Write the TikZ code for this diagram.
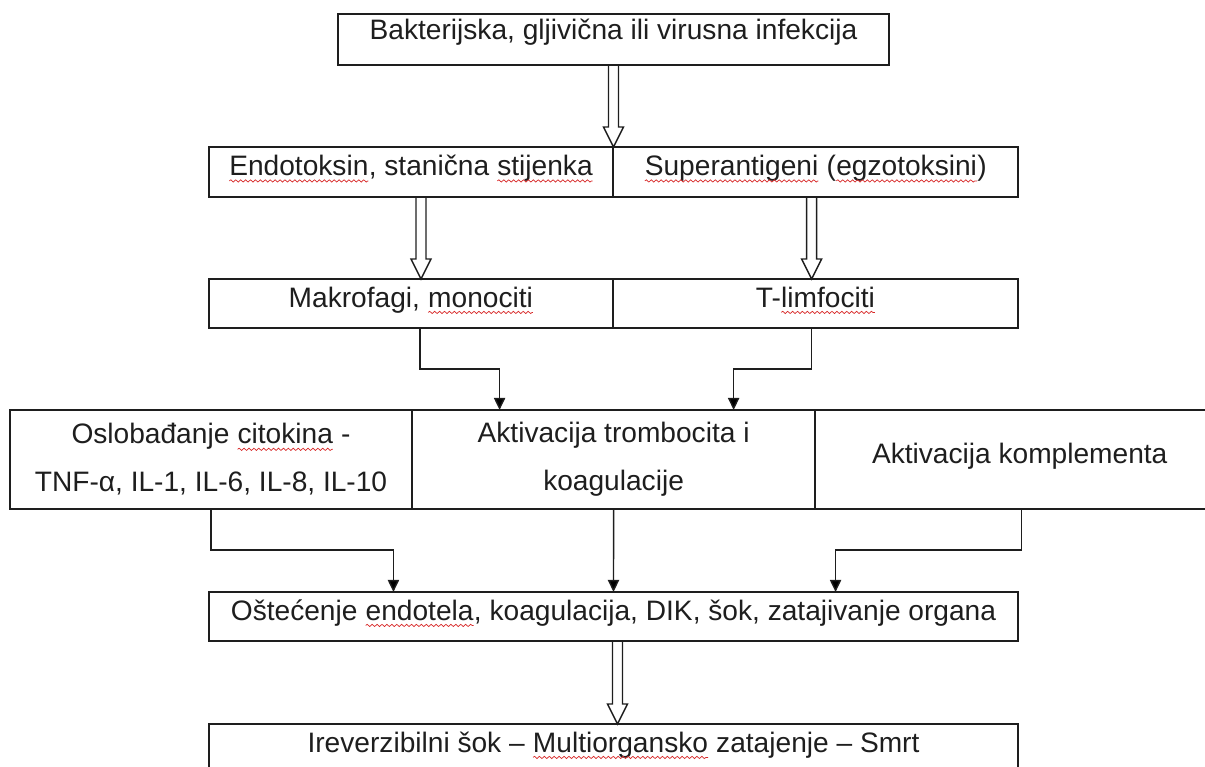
\documentclass[tikz,border=0pt]{standalone}
\usepackage{fontspec}
\setmainfont{Liberation Sans}
\usepackage{tikz}
\usetikzlibrary{arrows.meta, positioning, calc, decorations.pathmorphing}
\definecolor{inkgray}{RGB}{30, 30, 30}
\definecolor{spellred}{RGB}{215, 40, 40}
\newcommand\spellmark[1]{\tikz[baseline=(w.base)]{%
  \node[draw=none, inner sep=0pt, outer sep=0pt, minimum width=0pt, minimum height=0pt, anchor=base, at={(0,0)}] (w) {#1};%
  \draw[spellred, line width=0.5pt, decorate, decoration={snake, amplitude=0.8pt, segment length=3.5pt}] ([yshift=-3.8pt]w.base west) -- ([yshift=-3.8pt]w.base east);}}

\begin{document}
\begin{tikzpicture}[x=0.025cm, y=-0.025cm,
  stagebox/.style={draw=inkgray, line width=1pt, outer sep=0pt, inner sep=0pt,
    text=inkgray, font=\fontsize{20}{34}\selectfont, align=center},
  oneline/.style={text height=0.72em, text depth=0.21em},
  flowarrow/.style={draw=inkgray, line width=1pt, -{Triangle[length=0.3cm, width=0.28cm]}},
  hollowarrow/.style={draw=inkgray, line width=1pt, to path={
    let \p1=(\tikztostart), \p2=(\tikztotarget) in
    (\x1-0.125cm,\y1) -- (\x1-0.125cm,\y2+0.5cm) -- (\x1-0.25cm,\y2+0.5cm)
    -- (\x1,\y2) -- (\x1+0.25cm,\y2+0.5cm) -- (\x1+0.125cm,\y2+0.5cm) -- (\x1+0.125cm,\y1)}}]
  \useasboundingbox (0,0) rectangle (1205,767);
  \clip (0,0) rectangle (1205,767);

  % Cause
  \node[stagebox, oneline, text depth=0.72em, minimum width=13.775cm, minimum height=1.275cm] (inf) at (613.5,39.5) {Bakterijska, gljivična ili virusna infekcija};

  % Toxins
  \node[stagebox, oneline, minimum width=10.1cm, minimum height=1.25cm] (endo) at (411,172) {\spellmark{Endotoksin}, stanična \spellmark{stijenka}};
  \node[stagebox, oneline, minimum width=10.125cm, minimum height=1.25cm, right=0pt of endo] (super) {\spellmark{Superantigeni} (\spellmark{egzotoksini})};

  % Immune cells
  \node[stagebox, oneline, minimum width=10.1cm, minimum height=1.225cm] (makro) at (411,303.5) {Makrofagi, \spellmark{monociti}};
  \node[stagebox, oneline, minimum width=10.125cm, minimum height=1.225cm, right=0pt of makro] (tlimf) {T-\spellmark{limfociti}};

  % Mediators
  \node[stagebox, minimum width=10.05cm, minimum height=2.475cm] (citok) at (211,459.5) {Oslobađanje \spellmark{citokina} -\\TNF-α, IL-1, IL-6, IL-8, IL-10};
  \node[stagebox, minimum width=10.075cm, minimum height=2.475cm, right=0pt of citok] (trombo) {Aktivacija trombocita i\\koagulacije};
  \node[stagebox, oneline, minimum width=10.225cm, minimum height=2.475cm, right=0pt of trombo] (kompl) {Aktivacija komplementa};

  % Outcome
  \node[stagebox, oneline, minimum width=20.225cm, minimum height=1.225cm] (oste) at (613.5,616.5) {Oštećenje \spellmark{endotela}, koagulacija, DIK, šok, zatajivanje organa};
  \node[stagebox, oneline, minimum width=20.225cm, minimum height=1.225cm] (smrt) at (613.5,748.5) {Ireverzibilni šok – \spellmark{Multiorgansko} zatajenje – Smrt};

  % Hollow arrows
  \draw[hollowarrow] (inf.south) to (inf.south |- endo.north);
  \draw[hollowarrow] ([xshift=0.25cm]endo.south) to ([xshift=0.25cm]makro.north);
  \draw[hollowarrow] ([xshift=-0.1cm]super.south) to ([xshift=-0.1cm]tlimf.north);
  \draw[hollowarrow] ([xshift=0.1cm]oste.south) to ([xshift=0.1cm]smrt.north);

  % Elbow arrows
  \draw[flowarrow] ([xshift=0.225cm]makro.south) -- ++(0cm,-1.025cm) -| ([xshift=-2.85cm]trombo.north);
  \draw[flowarrow] ([xshift=-0.1cm]tlimf.south) -- ++(0cm,-1.025cm) -| ([xshift=3cm]trombo.north);
  \draw[flowarrow] (citok.south) -- ++(0cm,-1.025cm) -| ([xshift=-5.5cm]oste.north);
  \draw[flowarrow] (trombo.south) -- (oste.north);
  \draw[flowarrow] ([xshift=0.05cm]kompl.south) -- ++(0cm,-1.025cm) -| ([xshift=5.55cm]oste.north);
\end{tikzpicture}
\end{document}
